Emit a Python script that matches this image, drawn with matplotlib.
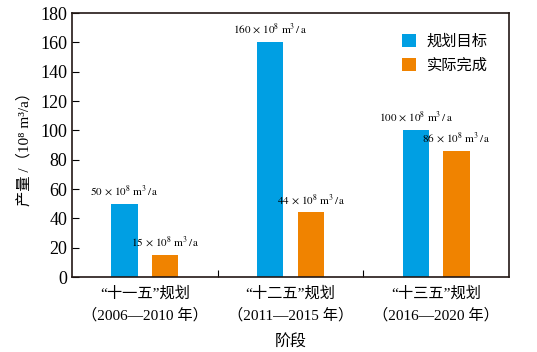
import numpy as np
import matplotlib
matplotlib.use("Agg")
import matplotlib.pyplot as plt

plt.rcParams['font.family'] = ['Liberation Serif', 'DejaVu Serif', 'Noto Sans CJK SC']
plt.rcParams['mathtext.fontset'] = 'stix'

# data
stages = ['“十一五”规划\n（2006—2010 年）', '“十二五”规划\n（2011—2015 年）', '“十三五”规划\n（2016—2020 年）']
target = [50, 160, 100]
actual = [15, 44, 86]
blue = '#009fe3'
orange = '#f08300'

fig = plt.figure(figsize=(5.37, 3.52), dpi=100)
ax = fig.add_axes([72 / 537, 1 - 277 / 352, (509 - 72) / 537, (277 - 13) / 352])

x = np.arange(len(stages)) + 0.5
w = 0.18
ax.bar(x - 0.14, target, w, color=blue, label='规划目标')
ax.bar(x + 0.14, actual, w, color=orange, label='实际完成')

# value labels above bars
for xi, v in list(zip(x - 0.14, target)) + list(zip(x + 0.14, actual)):
    ax.text(xi, v + 4, r'$%d\,\times\,10^{8}\ \mathrm{m^{3}\,/\,a}$' % v, ha='center', va='bottom', fontsize=8)

ax.set_xlim(0, 3)
ax.set_ylim(0, 180)
ax.set_yticks(range(0, 181, 20))
ax.set_xticks([1, 2])
ax.set_xticklabels([])
ax.set_xticks(x, minor=True)
ax.set_xticklabels(stages, minor=True, fontsize=11, linespacing=1.55)
ax.tick_params(axis='x', which='minor', length=0, pad=7)
ax.tick_params(axis='x', which='major', direction='in', length=5)
ax.tick_params(axis='y', direction='in', length=5, labelsize=13)
for s in ax.spines.values():
    s.set_linewidth(1.2)
    s.set_color('#231815')

ax.set_ylabel('产量 /（10⁸ m³/a）', fontsize=11, labelpad=6)
ax.set_xlabel('阶段', fontsize=11.5, labelpad=9)

ax.legend(loc='upper right', frameon=False, fontsize=11, handlelength=0.9, handleheight=0.9,
          handletextpad=0.7, borderaxespad=1.0, labelspacing=0.6)

fig.savefig('out.png', dpi=100)
